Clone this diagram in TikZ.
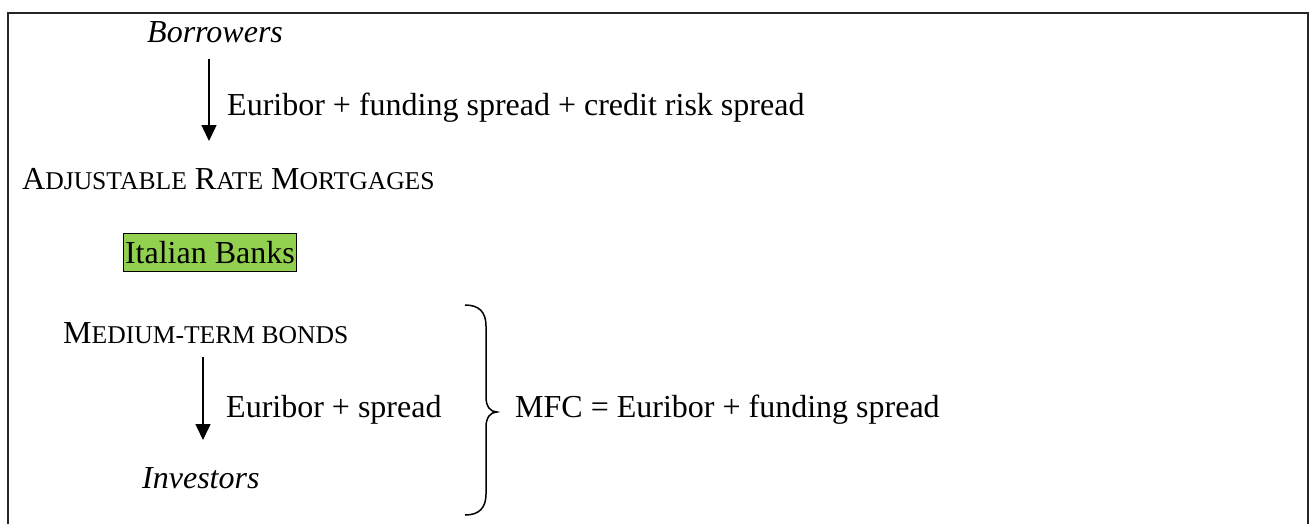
\documentclass[tikz,border=0pt]{standalone}
\usepackage{fontspec}
\setmainfont{Liberation Serif}
\usetikzlibrary{arrows.meta}
\definecolor{bankgreen}{HTML}{92D050}
\newcommand\bigsz{\fontsize{32}{38}\selectfont}
\newcommand\smsz{\fontsize{25.6}{30}\selectfont}
\begin{document}
\begin{tikzpicture}[x=1pt,y=-1pt,
  txt/.style={anchor=base west,inner sep=0pt,font=\bigsz},
  flow/.style={line width=1.5pt,-{Triangle[width=15pt,length=16pt]}},
  frame/.style={line width=1.6pt,draw=black!85}]
\useasboundingbox (0,0) rectangle (1314,523);
\draw[frame] (8,525) -- (8,13) -- (1308,13) -- (1308,525);
% top part
\node[txt] (borrowers) at (147,42) {\itshape Borrowers};
\coordinate (a1s) at (209,59);
\coordinate (a1e) at (209,141);
\draw[flow] (a1s) -- (a1e);
\node[txt] (lab1) at (227,115) {Euribor + funding spread + credit risk spread};
\node[txt] (arm) at (22,189) {A{\smsz DJUSTABLE} R{\smsz ATE} M{\smsz ORTGAGES}};
\node[txt,draw,fill=bankgreen,line width=1pt,inner xsep=1.5pt,inner ysep=0.5pt,text height=29pt,text depth=8pt] (banks) at (123,263) {Italian Banks};
% bottom part
\node[txt] (mtb) at (63,343) {M{\smsz EDIUM-TERM BONDS}};
\coordinate (a2s) at (203,357);
\coordinate (a2e) at (203,440);
\draw[flow] (a2s) -- (a2e);
\node[txt] (lab2) at (226,417) {Euribor + spread};
\node[txt] (investors) at (142,488) {\itshape Investors};
% brace
\coordinate (brtop) at (465,305);
\coordinate (brtip) at (497,412);
\coordinate (brbot) at (465,515);
\draw[line width=1.5pt] (brtop) .. controls (479,305) and (486,312) .. (486,326) -- (486,397)
  .. controls (486,406) and (490,412) .. (brtip)
  .. controls (490,412) and (486,418) .. (486,427) -- (486,494)
  .. controls (486,508) and (479,515) .. (brbot);
\node[txt] (mfc) at (515,417) {MFC = Euribor + funding spread};
\end{tikzpicture}
\end{document}
